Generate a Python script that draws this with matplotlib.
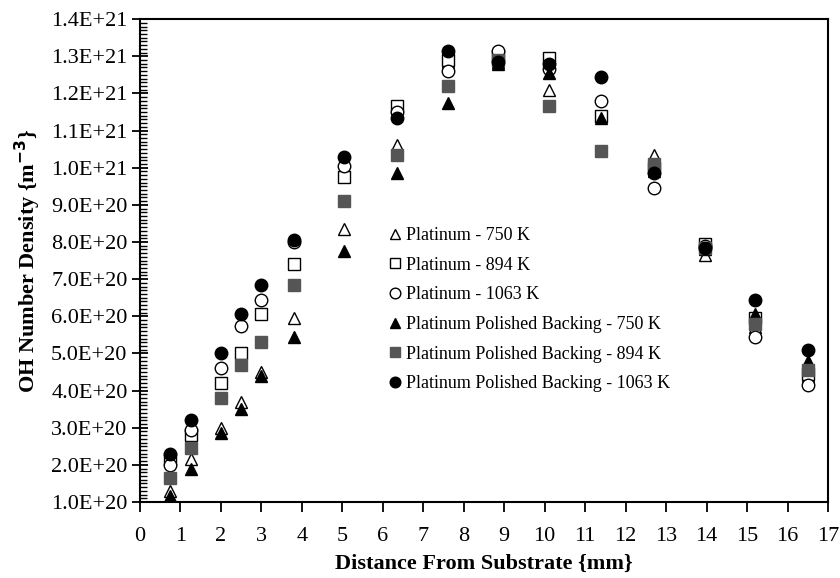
import matplotlib.pyplot as plt
from matplotlib.ticker import MultipleLocator, FuncFormatter

plt.rcParams['font.family'] = ['Liberation Serif', 'DejaVu Serif']

distance = [0.75, 1.25, 2.0, 2.5, 3.0, 3.8, 5.05, 6.35, 7.6, 8.85, 10.1, 11.4, 12.7, 13.95, 15.2, 16.5]

# values in units of 1E+20 m^-3
pt_750 = [1.3, 2.15, 3.0, 3.7, 4.5, 5.95, 8.35, 10.6, 12.85, 12.85, 12.1, 11.4, 10.35, 7.65, 5.7, 4.4]
pt_894 = [2.15, 2.8, 4.2, 5.0, 6.05, 7.4, 9.75, 11.65, 12.9, 13.0, 12.95, 11.4, 10.0, 7.95, 5.95, 4.45]
pt_1063 = [2.0, 2.95, 4.6, 5.75, 6.45, 8.0, 10.05, 11.5, 12.6, 13.15, 12.65, 11.8, 9.45, 7.9, 5.45, 4.15]
pb_750 = [1.15, 1.9, 2.85, 3.5, 4.4, 5.45, 7.75, 9.85, 11.75, 12.8, 12.55, 11.35, 9.9, 7.8, 6.05, 4.8]
pb_894 = [1.65, 2.45, 3.8, 4.7, 5.3, 6.85, 9.1, 10.35, 12.2, 12.9, 11.65, 10.45, 10.1, 7.85, 5.8, 4.55]
pb_1063 = [2.3, 3.2, 5.0, 6.05, 6.85, 8.05, 10.3, 11.35, 13.15, 12.85, 12.8, 12.45, 9.85, 7.85, 6.45, 5.1]

labels = ['Platinum - 750 K', 'Platinum - 894 K', 'Platinum - 1063 K',
          'Platinum Polished Backing - 750 K', 'Platinum Polished Backing - 894 K',
          'Platinum Polished Backing - 1063 K']

fig = plt.figure(figsize=(8.4, 5.78), dpi=100)
ax = fig.add_axes([0.1667, 0.1315, 0.819, 0.8355])

series = [pt_750, pt_894, pt_1063, pb_750, pb_894, pb_1063]
markers = ['^', 's', 'o', '^', 's', 'o']
faces = ['white', 'white', 'white', 'black', '#555555', 'black']
edges = ['black', 'black', 'black', 'black', '#555555', 'black']

for vals, m, fc, ec, lab in zip(series, markers, faces, edges, labels):
    ax.plot(distance, [v * 1e20 for v in vals],
            linestyle='none',
            marker=m,
            markersize=9,
            markerfacecolor=fc,
            markeredgecolor=ec,
            markeredgewidth=1,
            label=lab)

ax.set_xlim(0, 17)
ax.set_ylim(1e20, 1.4e21)
ax.xaxis.set_major_locator(MultipleLocator(1))
ax.yaxis.set_major_locator(MultipleLocator(1e20))
ax.yaxis.set_minor_locator(MultipleLocator(1e19))
ax.yaxis.set_major_formatter(FuncFormatter(lambda v, p: f'{v:.1E}'))
ax.yaxis.get_offset_text().set_visible(False)

ax.tick_params(axis='x', direction='out', length=7, width=1.3, labelsize=16, pad=11)
ax.tick_params(axis='y', which='major', direction='inout', length=12, width=1.3, labelsize=16, pad=3)
ax.tick_params(axis='y', which='minor', direction='in', length=5, width=1)

for s in ax.spines.values():
    s.set_linewidth(1.5)

ax.set_xlabel('Distance From Substrate {mm}', fontsize=16, fontweight='bold', labelpad=6)
ax.set_ylabel('OH Number Density {m$^{\\mathbf{-3}}$}', fontsize=16, fontweight='bold', labelpad=6)

ax.legend(loc='upper left',
          bbox_to_anchor=((388 - 140) / 688, (502 - 227) / 483),
          frameon=False,
          fontsize=13,
          markerscale=0.85,
          handlelength=0.8,
          handletextpad=0.2,
          labelspacing=0.7,
          borderpad=0,
          borderaxespad=0)

fig.savefig('out.png', dpi=100)
